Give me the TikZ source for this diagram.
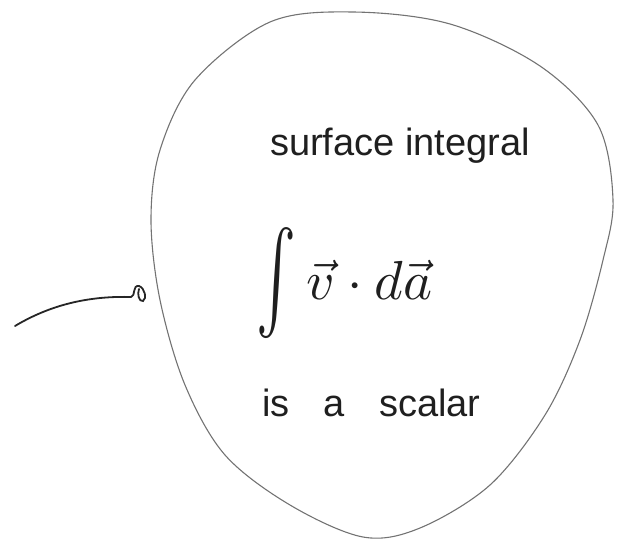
\documentclass[tikz,border=0pt]{standalone}
\usepackage{graphicx}
\usepackage{fontspec}
\setmainfont{Liberation Sans}
\begin{document}
\begin{tikzpicture}[x=1pt,y=-1pt,
  outline/.style={draw=black!55,line width=1.1pt},
  ink/.style={draw=black!85,line width=1.6pt,line cap=round},
  hand/.style={text=black!88,font=\fontsize{38}{40}\selectfont,inner sep=0pt,anchor=base west}]
\useasboundingbox (0,0) rectangle (621,540);
\draw[outline] plot[smooth cycle,tension=0.55] coordinates {
 (353,12) (450,24) (540,66) (598,125) (613,200) (603,260)
 (580,340) (545,415) (490,485) (420,528) (363,537) (290,505) (225,455)
 (185,385) (160,300) (151,220) (160,150) (195,80) (270,22)};
\node[text=black!88,inner sep=0pt] (int) at (276,283) {\scalebox{6}[10]{$\int$}};
\node[hand] (t1) at (270,156) {surface integral};
\node[text=black!88,inner sep=0pt,anchor=base west] (f) at (306,299) {\scalebox{5.5}{$\vec{v}\cdot d\vec{a}$}};
\node[hand] (t3) at (262,416) {is\hspace{0.9em}a\hspace{0.9em}scalar};
\coordinate (s) at (15,326);
\coordinate (e) at (131,297);
\draw[ink,line width=1.8pt] (s) .. controls (55,302) and (95,296) .. (e);
\draw[ink,line width=1.8pt] (e) .. controls (136,296) and (132,285) .. (139,286)
  .. controls (145,288) and (147,299) .. (143,301) .. controls (139,302) and (137,294) .. (139,289);
\end{tikzpicture}
\end{document}
